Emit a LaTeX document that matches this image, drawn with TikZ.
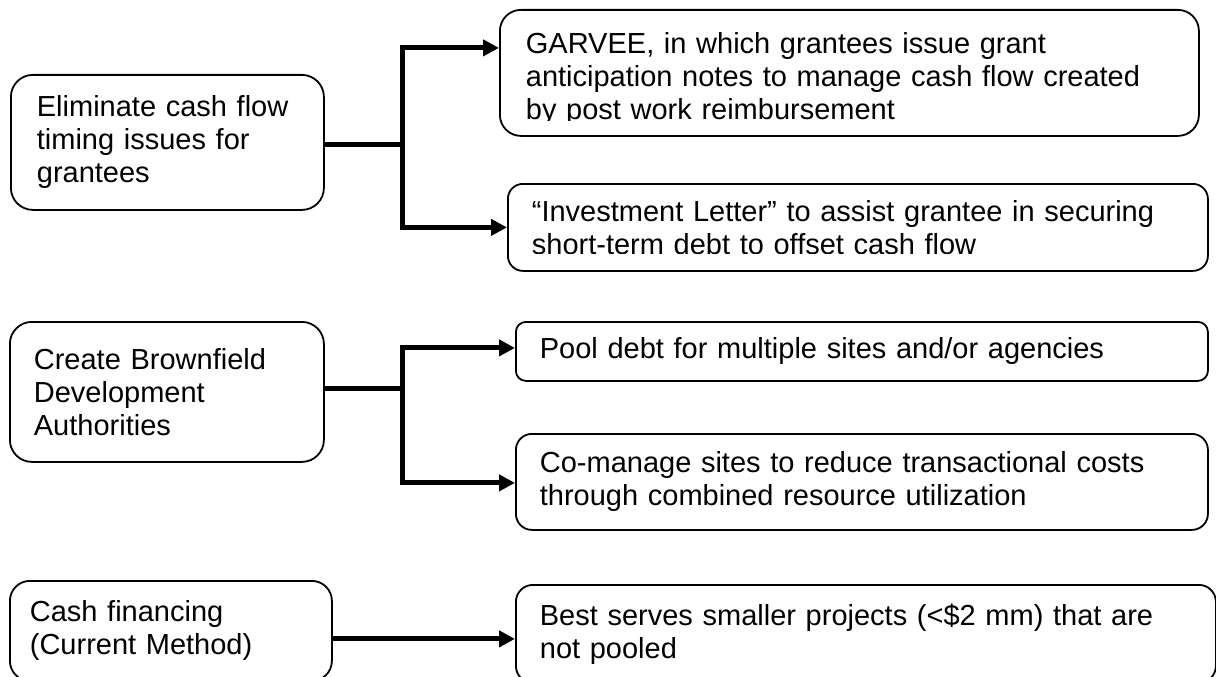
\documentclass[tikz,border=0pt]{standalone}
\usepackage{fontspec}
\setmainfont{Liberation Sans}
\usepackage{tikz}
\usetikzlibrary{shapes, arrows.meta, positioning, calc}

\tikzset{
	box/.style={draw, line width=1.8pt, rounded corners=#1, align=left, anchor=north west,
		inner xsep=24pt, inner ysep=0pt, font=\fontsize{29}{33}\selectfont},
	box/.default=16pt,
	link/.style={line width=5pt},
}

\begin{document}
\begin{tikzpicture}[x=1pt, y=-1pt, >={Triangle[length=16pt,width=16pt]}]
		\clip (0,0) rectangle (1216,677);
		\node[box=22pt, text width=261pt, inner xsep=26pt, minimum height=135pt] (L1) at (10,74) {Eliminate cash flow\\timing issues for\\grantees};
		\node[box=22pt, text width=266pt, minimum height=140pt] (L2) at (9,321) {Create Brownfield\\Development\\Authorities};
		\node[box=20pt, text width=282pt, inner xsep=20pt, minimum height=100pt] (L3) at (9,580) {Cash financing\\(Current Method)};
			\node[box=21pt, text width=647pt, inner xsep=26pt, minimum height=126pt] (A) at (499,9) {\rule{0pt}{34pt}GARVEE, in which grantees issue grant\\anticipation notes to manage cash flow created\\by post work reimbursement};
			\node[box=15pt, text width=652pt, minimum height=87pt] (B) at (507,183) {“Investment Letter” to assist grantee in securing\\short-term debt to offset cash flow};
			\node[box=10pt, text width=644pt, minimum height=59pt] (C) at (515,321) {Pool debt for multiple sites and/or agencies};
			\node[box=16pt, text width=644pt, minimum height=96pt] (D) at (515,433) {Co-manage sites to reduce transactional costs\\through combined resource utilization};
			\node[box=17pt, text width=652pt, minimum height=98pt] (E) at (515,584) {Best serves smaller projects (<\$2 mm) that are\\not pooled};
		% text that overflows its frame is cut off
		\fill[white] (520,121) rectangle (1170,133);
		\fill[white] (520,254) rectangle (1180,268);
		\coordinate (j1) at (402,144);
		\coordinate (j2) at (402,388);
		\coordinate (e3) at ([yshift=-5pt]E.west);
		\draw[link] (L1.east |- j1) -- (j1);
		\draw[link] (L2.east |- j2) -- (j2);
		\foreach \from/\to/\dy in {j1/A/25pt, j1/B/0pt, j2/C/3.5pt, j2/D/-1pt}
			\draw[link, ->] (\from) |- ([yshift=\dy]\to.west);
		\draw[link, ->] (L3.east |- e3) -- (e3);
	\end{tikzpicture}
\end{document}
